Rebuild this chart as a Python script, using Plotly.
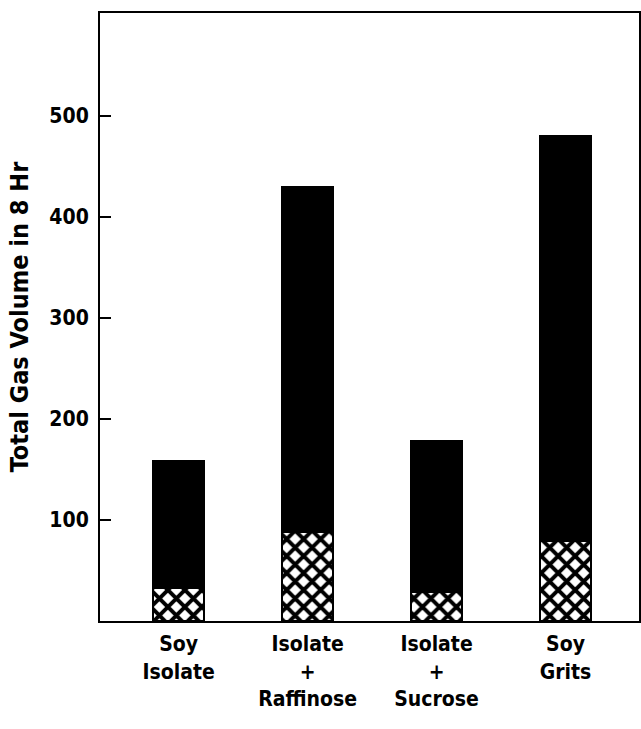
import plotly.graph_objects as go

categories = ["Soy<br>Isolate", "Isolate<br>+<br>Raffinose", "Isolate<br>+<br>Sucrose", "Soy<br>Grits"]
total_gas = [158, 430, 178, 480]
hatched_part = [33, 88, 29, 79]
y_ticks = [100, 200, 300, 400, 500]

x_pos = list(range(len(categories)))
upper_part = [t - h for t, h in zip(total_gas, hatched_part)]

FONT = "DejaVu Sans Condensed, Liberation Sans Narrow, sans-serif"

fig = go.Figure()
fig.add_trace(go.Bar(
    x=x_pos, y=hatched_part, width=0.40,
    marker=dict(color="white",
                pattern=dict(shape="x", fgcolor="black", bgcolor="white", size=12, solidity=0.55, fillmode="replace"),
                line=dict(color="black", width=2)),
    showlegend=False, hoverinfo="skip",
))
fig.add_trace(go.Bar(
    x=x_pos, y=upper_part, width=0.40,
    marker=dict(color="black", line=dict(color="black", width=2)),
    showlegend=False, hoverinfo="skip",
))

fig.update_layout(
    width=641, height=729,
    barmode="stack",
    plot_bgcolor="white", paper_bgcolor="white",
    margin=dict(l=100, r=2, t=13, b=108),
    font=dict(family=FONT, color="black", size=21, weight="bold"),
    xaxis=dict(
        range=[-0.61, 3.57],
        tickvals=x_pos, ticktext=categories,
        ticks="", showgrid=False, zeroline=False,
        showline=True, linecolor="black", linewidth=2, mirror=True,
        tickfont=dict(family=FONT, size=21, weight="bold"),
        ticklabelstandoff=3,
        automargin=False,
    ),
    yaxis=dict(
        range=[0, 602],
        tickvals=y_ticks,
        ticks="inside", ticklen=11, tickwidth=2, tickcolor="black",
        showgrid=False, zeroline=False,
        showline=True, linecolor="black", linewidth=2, mirror=True,
        tickfont=dict(family=FONT, size=21, weight="bold"),
        ticklabelstandoff=5,
        automargin=False,
        title=dict(text="Total Gas Volume in 8 Hr", font=dict(family=FONT, size=25, weight="bold"), standoff=14),
    ),
)

fig.write_html(
    "out.html",
    config={"displayModeBar": False, "staticPlot": True},
    post_script="document.body.style.margin='0';document.body.style.overflow='hidden';",
)
